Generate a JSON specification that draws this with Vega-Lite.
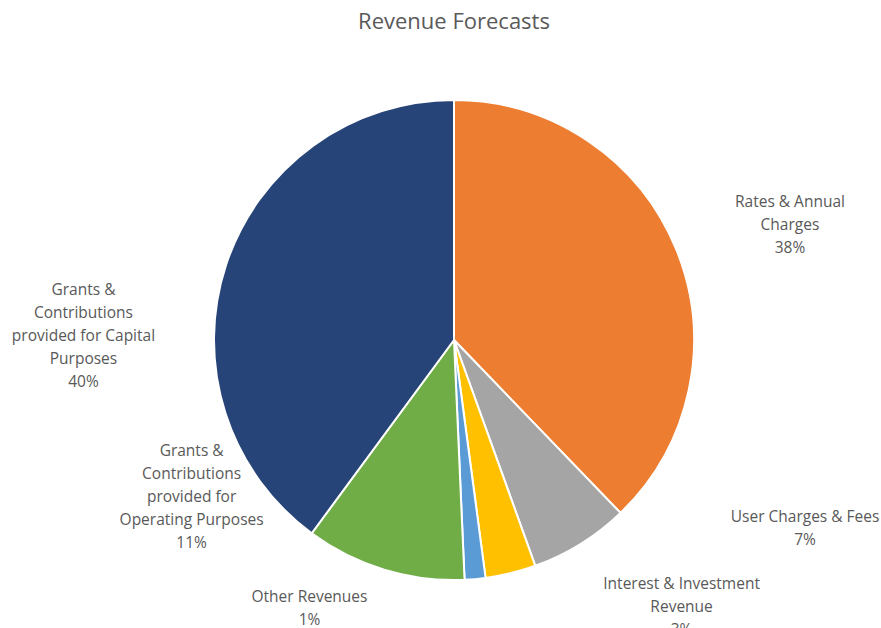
{
  "$schema": "https://vega.github.io/schema/vega-lite/v6.json",
  "autosize": "none",
  "width": 854,
  "height": 576,
  "padding": {"left": 27, "top": 52, "right": 0, "bottom": 0},
  "background": "white",
  "title": {
    "text": "Revenue Forecasts",
    "fontSize": 22,
    "font": "Open Sans",
    "fontWeight": "normal",
    "letterSpacing": 1,
    "color": "#595959",
    "anchor": "middle",
    "baseline": "alphabetic",
    "offset": 1
  },
  "data": {
    "values": [
      {"k": "rates", "category": "Rates & Annual Charges", "value": 37.8, "order": 1, "label": "Rates & Annual\nCharges\n38%"},
      {"k": "user", "category": "User Charges & Fees", "value": 6.7, "order": 2, "label": "User Charges & Fees\n7%"},
      {"k": "interest", "category": "Interest & Investment Revenue", "value": 3.4, "order": 3, "label": "Interest & Investment\nRevenue\n3%"},
      {"k": "other", "category": "Other Revenues", "value": 1.4, "order": 4, "label": "Other Revenues\n1%"},
      {"k": "operating", "category": "Grants & Contributions provided for Operating Purposes", "value": 10.8, "order": 5, "label": "Grants &\nContributions\nprovided for\nOperating Purposes\n11%"},
      {"k": "capital", "category": "Grants & Contributions provided for Capital Purposes", "value": 39.9, "order": 6, "label": "Grants &\nContributions\nprovided for Capital\nPurposes\n40%"}
    ]
  },
  "encoding": {
    "theta": {"field": "value", "type": "quantitative", "stack": true},
    "order": {"field": "order", "type": "quantitative", "sort": "ascending"}
  },
  "layer": [
    {
      "mark": {"type": "arc", "outerRadius": 240, "stroke": "white", "strokeWidth": 2},
      "encoding": {
        "color": {
          "field": "category",
          "type": "nominal",
          "legend": null,
          "scale": {
            "domain": ["Rates & Annual Charges", "User Charges & Fees", "Interest & Investment Revenue", "Other Revenues", "Grants & Contributions provided for Operating Purposes", "Grants & Contributions provided for Capital Purposes"],
            "range": ["#ED7D31", "#A5A5A5", "#FFC000", "#5B9BD5", "#70AD47", "#264478"]
          }
        }
      }
    },
    {
      "mark": {
        "type": "text",
        "radius": 290,
        "font": "Open Sans",
        "fontSize": 15.5,
        "color": "#595959",
        "align": "center",
        "baseline": "middle",
        "lineBreak": "\n",
        "lineHeight": 23,
        "dx": {"expr": "datum.k === 'rates' ? 67 : datum.k === 'user' ? 198 : datum.k === 'interest' ? 159 : datum.k === 'other' ? -170 : datum.k === 'operating' ? -178 : -95"},
        "dy": {"expr": "datum.k === 'rates' ? -30 : datum.k === 'user' ? -69 : datum.k === 'interest' ? -38 : datum.k === 'other' ? -32 : datum.k === 'operating' ? -166 : 40"}
      },
      "encoding": {
        "text": {"field": "label", "type": "nominal"}
      }
    }
  ]
}
